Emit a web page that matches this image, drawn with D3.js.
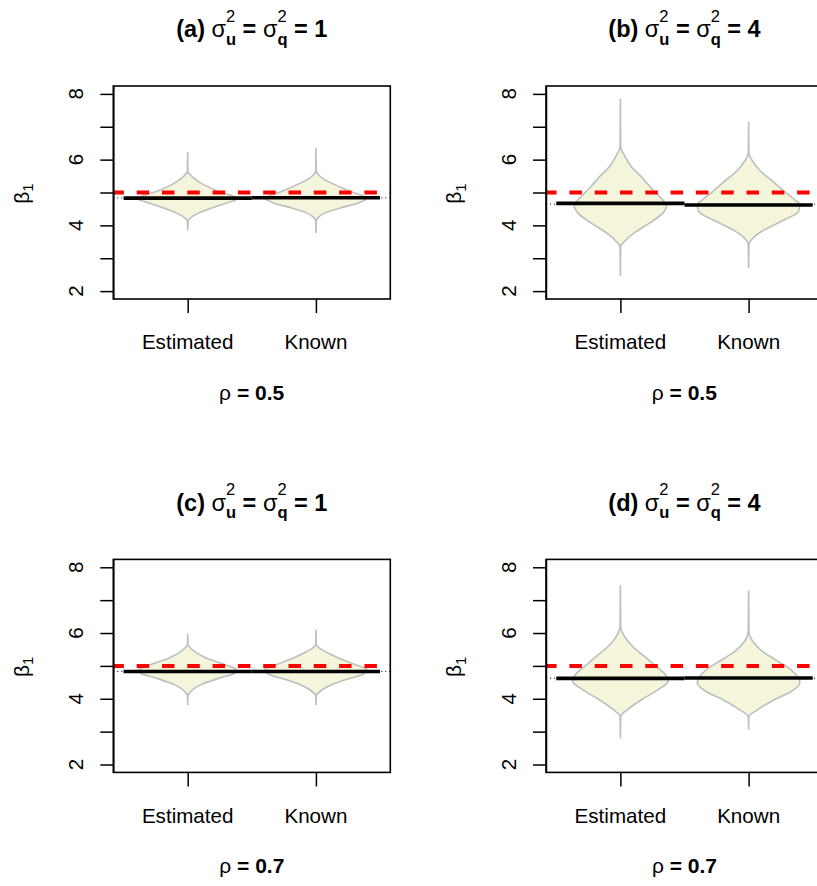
<!DOCTYPE html>
<html><head><meta charset="utf-8">
<script src="https://cdn.jsdelivr.net/npm/d3@7"></script>
<style>body{margin:0;background:#fff} svg{display:block} text{white-space:pre}</style>
</head><body><svg id="chart" width="817" height="886"></svg>
<script>
// ---------- data ----------
const categories = ["Estimated", "Known"];
const panelLabels = ["(a)", "(b)", "(c)", "(d)"];
const sigmaValues = ["1", "4", "1", "4"];
const rhoValues = ["0.5", "0.5", "0.7", "0.7"];
const trueBeta = 5;
const yTicks = [2, 3, 4, 5, 6, 7, 8];
const yTickLabels = [2, 4, 6, 8];
const xTicks = [1, 2];

// bean means (Estimated, Known) per panel
const meansA = [4.83, 4.84];
const meansB = [4.67, 4.62];
const meansC = [4.83, 4.83];
const meansD = [4.62, 4.63];

// bean density profiles: [beta1 value, relative density]
const densA_est = [[6.23,0],[5.64,0.006],[5.54,0.05],[5.44,0.12],[5.24,0.31],[5.03,0.61],[4.88,0.90],[4.80,0.96],[4.68,0.76],[4.53,0.47],[4.38,0.22],[4.22,0.05],[4.12,0.006],[3.85,0]];
const densA_kno = [[6.36,0],[5.64,0.006],[5.54,0.05],[5.44,0.12],[5.24,0.37],[5.03,0.67],[4.83,0.99],[4.68,0.83],[4.53,0.47],[4.38,0.18],[4.25,0.05],[4.12,0.006],[3.77,0]];
const densB_est = [[7.85,0],[6.40,0.006],[6.10,0.09],[5.79,0.21],[5.49,0.40],[5.19,0.57],[4.98,0.70],[4.73,0.85],[4.58,0.90],[4.38,0.83],[4.07,0.57],[3.77,0.27],[3.51,0.08],[3.36,0.006],[2.47,0]];
const densB_kno = [[7.15,0],[6.20,0.006],[5.95,0.08],[5.64,0.24],[5.34,0.47],[5.03,0.70],[4.78,0.90],[4.63,1.00],[4.42,0.97],[4.17,0.70],[3.87,0.31],[3.61,0.08],[3.41,0.006],[2.70,0]];
const densC_est = [[5.98,0],[5.65,0.006],[5.55,0.05],[5.44,0.13],[5.24,0.36],[5.04,0.72],[4.88,0.95],[4.78,0.92],[4.63,0.62],[4.43,0.26],[4.17,0.03],[4.10,0.006],[3.80,0]];
const densC_kno = [[6.10,0],[5.65,0.006],[5.55,0.06],[5.44,0.18],[5.24,0.44],[5.04,0.76],[4.88,1.00],[4.73,0.90],[4.58,0.57],[4.38,0.24],[4.17,0.04],[4.10,0.006],[3.80,0]];
const densD_est = [[7.45,0],[6.20,0.006],[5.90,0.08],[5.59,0.24],[5.29,0.47],[4.98,0.70],[4.73,0.88],[4.53,0.93],[4.27,0.73],[3.97,0.41],[3.67,0.14],[3.46,0.006],[2.80,0]];
const densD_kno = [[7.29,0],[6.05,0.006],[5.75,0.08],[5.44,0.27],[5.14,0.57],[4.88,0.83],[4.63,0.97],[4.48,1.00],[4.22,0.83],[3.97,0.50],[3.67,0.18],[3.46,0.006],[3.06,0]];

const panelMeans = [meansA, meansB, meansC, meansD];
const panelDens = [[densA_est, densA_kno], [densB_est, densB_kno], [densC_est, densC_kno], [densD_est, densD_kno]];

// ---------- layout ----------
const FF = "'Liberation Sans', Arial, Helvetica, sans-serif";
const colLeft = [113.3, 546];
const rowTop = [86, 559.4];
const PW = 277, PH = 213;
const svg = d3.select("#chart");

function drawPanel(i) {
  const L = colLeft[i % 2], T = rowTop[Math.floor(i / 2)];
  const B = T + PH, R = L + PW, CX = (L + R) / 2;
  const g = svg.append("g");
  const x = d3.scaleLinear().domain([0.42, 2.58]).range([L, R]);
  const y = d3.scaleLinear().domain([1.76, 8.24]).range([B, T]);
  const w = d3.scaleLinear().domain([0, 1]).range([0, 0.4]);

  // beans
  panelDens[i].forEach((dens, k) => {
    const c = k + 1;
    const area = d3.area()
      .y(d => y(d[0]))
      .x0(d => x(c - w(d[1])))
      .x1(d => x(c + w(d[1])))
      .curve(d3.curveMonotoneY);
    g.append("path").attr("d", area(dens))
      .attr("fill", "#F5F5DC").attr("stroke", "#BEBEBE").attr("stroke-width", 1.6);
  });

  // overall mean (dotted)
  const means = panelMeans[i];
  const overall = d3.mean(means);
  g.append("line").attr("x1", L).attr("x2", R).attr("y1", y(overall)).attr("y2", y(overall))
    .attr("stroke", "#000").attr("stroke-width", 1).attr("stroke-dasharray", "1,3");

  // bean lines (means)
  means.forEach((m, k) => {
    const c = k + 1;
    g.append("line").attr("x1", x(c - 0.5)).attr("x2", x(c + 0.5))
      .attr("y1", y(m)).attr("y2", y(m))
      .attr("stroke", "#000").attr("stroke-width", 3.6);
  });

  // true value (red dashed)
  g.append("line").attr("x1", L).attr("x2", R).attr("y1", y(trueBeta)).attr("y2", y(trueBeta))
    .attr("stroke", "#FF0000").attr("stroke-width", 4)
    .attr("stroke-dasharray", "12.5,12.8").attr("stroke-dashoffset", 1.9);

  // axes
  const ya = d3.axisLeft(y).tickValues(yTicks).tickSize(13).tickSizeOuter(0).tickFormat("");
  const yg = g.append("g").attr("transform", `translate(${L},0)`).call(ya);
  yg.selectAll("line").attr("stroke-width", 1.5);
  yg.select(".domain").attr("stroke-width", 1.5);
  yTickLabels.forEach(v => {
    g.append("text").attr("transform", `translate(${L - 30},${y(v)}) rotate(-90)`)
      .attr("text-anchor", "middle").attr("font-family", FF).attr("font-size", 20.6)
      .text(v);
  });
  const xa = d3.axisBottom(x).tickValues(xTicks).tickSize(14).tickSizeOuter(0).tickFormat("");
  const xg = g.append("g").attr("transform", `translate(0,${B})`).call(xa);
  xg.selectAll("line").attr("stroke-width", 1.5);
  xg.select(".domain").remove();
  xTicks.forEach((t, k) => {
    g.append("text").attr("x", x(t)).attr("y", B + 50.3).attr("text-anchor", "middle")
      .attr("font-family", FF).attr("font-size", 20.6).text(categories[k]);
  });

  // box
  g.append("rect").attr("x", L).attr("y", T).attr("width", PW).attr("height", PH)
    .attr("fill", "none").attr("stroke", "#000").attr("stroke-width", 1.6);

  // y label beta_1
  const yl = g.append("text").attr("transform", `translate(${L - 84.8},${T + PH / 2 + 1}) rotate(-90)`)
    .attr("text-anchor", "middle").attr("font-family", FF).attr("font-size", 21);
  yl.append("tspan").text("β");
  yl.append("tspan").attr("font-size", 15).attr("dy", 4.8).text("1");

  // title
  const tg = g.append("g");
  const t = tg.append("text").attr("x", 0).attr("y", T - 48.7).attr("font-family", FF)
    .attr("font-size", 23.5).attr("font-weight", "bold");
  t.append("tspan").text(panelLabels[i] + " ");
  t.append("tspan").attr("font-weight", "normal").text("σ");
  t.append("tspan").attr("font-size", 16.5).attr("font-weight", "normal").attr("dy", -15.6).text("2");
  t.append("tspan").attr("font-size", 16.5).attr("dx", -9.2).attr("dy", 23.3).text("u");
  t.append("tspan").attr("dy", -7.7).text(" = ");
  t.append("tspan").attr("font-weight", "normal").text("σ");
  t.append("tspan").attr("font-size", 16.5).attr("font-weight", "normal").attr("dy", -15.6).text("2");
  t.append("tspan").attr("font-size", 16.5).attr("dx", -9.2).attr("dy", 23.3).text("q");
  t.append("tspan").attr("dy", -7.7).text(" = " + sigmaValues[i]);
  const bb = t.node().getBBox();
  tg.attr("transform", `translate(${CX - bb.width / 2 - bb.x},0)`);

  // rho label
  const rg = g.append("g");
  const r = rg.append("text").attr("x", 0).attr("y", B + 101).attr("font-family", FF).attr("font-size", 21);
  r.append("tspan").text("ρ");
  r.append("tspan").attr("font-weight", "bold").text(" = " + rhoValues[i]);
  const rb = r.node().getBBox();
  rg.attr("transform", `translate(${CX - rb.width / 2 - rb.x},0)`);
}

for (let i = 0; i < 4; i++) drawPanel(i);
</script>
</body></html>
